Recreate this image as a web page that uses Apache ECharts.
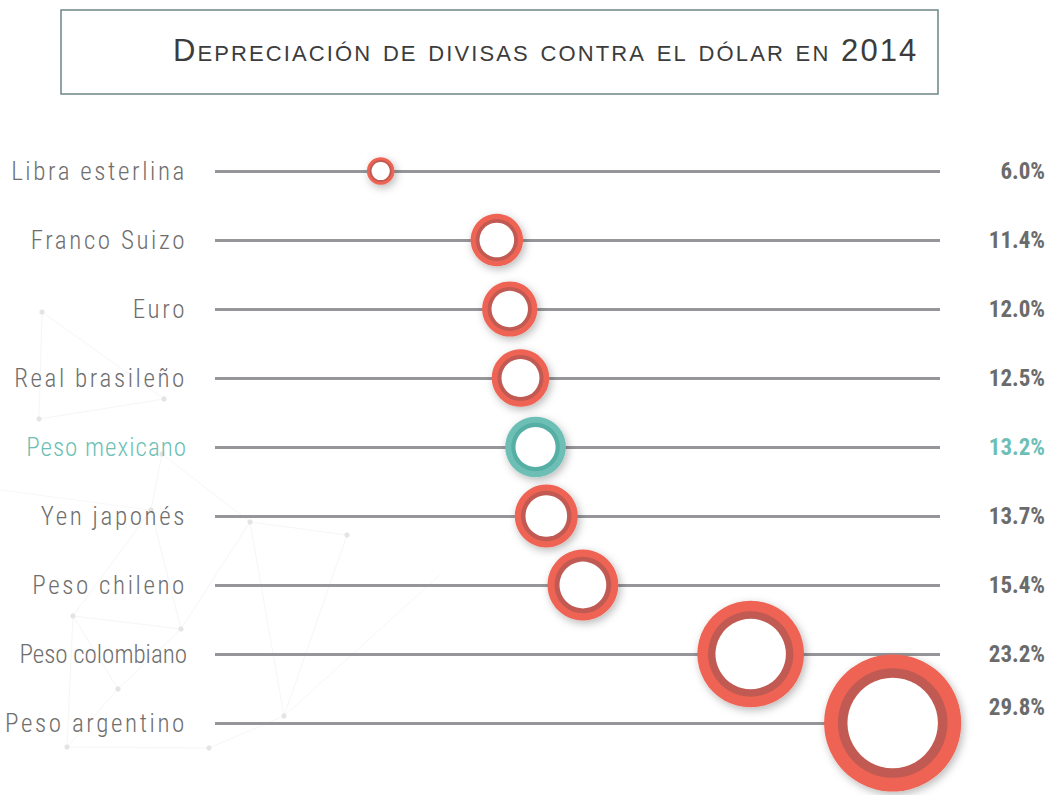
<!DOCTYPE html>
<html>
<head>
<meta charset="utf-8">
<title>Depreciación de divisas contra el dólar en 2014</title>
<script src="https://cdn.jsdelivr.net/npm/echarts@6/dist/echarts.min.js"></script>
<style>
    body { margin: 0; background: #fff; }
    #main { width: 1051px; height: 795px; }
    /* espaciado de letras y versalitas como en la infografía */
    #main text[style*="font-size: 25px"] { letter-spacing: 2.6px; }
    #main text[style*="font-size: 31px"] { letter-spacing: 2.1px; font-variant: small-caps; }
</style>
</head>
<body>
<div id="main"></div>
<script>
// datos
var divisas = ['Libra esterlina', 'Franco Suizo', 'Euro', 'Real brasileño', 'Peso mexicano',
    'Yen japonés', 'Peso chileno', 'Peso colombiano', 'Peso argentino'];
var depreciacion = [6.0, 11.4, 12.0, 12.5, 13.2, 13.7, 15.4, 23.2, 29.8];
var etiquetas = ['6.0%', '11.4%', '12.0%', '12.5%', '13.2%', '13.7%', '15.4%', '23.2%', '29.8%'];
var destacado = 'Peso mexicano';

var rojo = '#ee6352', rojoOscuro = '#c15a52';
var verde = '#6dbfb6', verdeOscuro = '#56afa4';
// algunas etiquetas van más juntas en el original
var espaciado = { 'Peso mexicano': '1px', 'Peso colombiano': '0px' };

// red decorativa del fondo (solo adorno)
var nodos = [[42, 312], [164, 399], [39, 419], [162, 454], [151, 510], [250, 522], [347, 535],
    [73, 616], [181, 629], [118, 689], [284, 716], [67, 747], [209, 748]];
var enlaces = [[0, 1], [1, 2], [0, 2], [3, 4], [3, 5], [4, 7], [4, 8], [5, 8], [5, 10], [5, 6],
    [6, 10], [7, 8], [7, 9], [8, 9], [7, 11], [11, 12], [12, 10], [9, 11]];

function fondo() {
    var g = [];
    enlaces.forEach(function (e) {
        var a = nodos[e[0]], b = nodos[e[1]];
        g.push({ type: 'line', silent: true, z: -10,
            shape: { x1: a[0], y1: a[1], x2: b[0], y2: b[1] },
            style: { stroke: '#f6f6f6', lineWidth: 1 } });
    });
    g.push({ type: 'line', silent: true, z: -10, shape: { x1: 284, y1: 716, x2: 440, y2: 575 }, style: { stroke: '#f7f7f7', lineWidth: 1 } });
    g.push({ type: 'line', silent: true, z: -10, shape: { x1: 0, y1: 490, x2: 151, y2: 510 }, style: { stroke: '#f7f7f7', lineWidth: 1 } });
    nodos.forEach(function (n) {
        g.push({ type: 'circle', silent: true, z: -9,
            shape: { cx: n[0], cy: n[1], r: 2.6 },
            style: { fill: '#e4e4e4' } });
    });
    return g;
}

function chart() {
    var dom = document.getElementById('main');
    var myChart = echarts.init(dom, null, { renderer: 'svg' });

    var puntos = divisas.map(function (d, i) {
        return { name: d, value: [depreciacion[i], d] };
    });

    function colorAnillo(claro) {
        return function (p) {
            if (p.name === destacado) return claro ? verde : verdeOscuro;
            return claro ? rojo : rojoOscuro;
        };
    }

    var option = {
        animation: false,
        title: {
            text: 'Depreciación de divisas contra el dólar en 2014',
            left: 173,
            top: 35,
            padding: 0,
            textStyle: {
                fontFamily: '"Liberation Sans", Arial, sans-serif',
                fontWeight: 'normal',
                fontSize: 31,
                color: '#3c3c3c'
            }
        },
        graphic: [{
            type: 'rect',
            shape: { x: 61, y: 10, width: 877, height: 84 },
            style: { fill: 'none', stroke: '#6f8585', lineWidth: 1.5 },
            z: 0
        }].concat(fondo()),
        grid: { left: 215, right: 111, top: 171, bottom: 72 },
        xAxis: {
            type: 'value',
            min: -1.7,
            max: 32,
            show: false
        },
        yAxis: [{
            type: 'category',
            inverse: true,
            boundaryGap: false,
            data: divisas,
            axisLine: { show: false },
            axisTick: { show: false },
            splitLine: { show: true, lineStyle: { color: '#96959a', width: 3 } },
            axisLabel: {
                margin: 28,
                fontFamily: '"Roboto Condensed", Roboto, sans-serif',
                fontWeight: 300,
                fontSize: 25,
                color: function (v) { return v === destacado ? verde : '#6e6e6e'; }
            }
        }, {
            type: 'category',
            position: 'right',
            inverse: true,
            boundaryGap: false,
            data: divisas,
            axisLine: { show: false },
            axisTick: { show: false },
            splitLine: { show: false },
            axisLabel: {
                margin: 105,
                align: 'right',
                fontFamily: '"Roboto Condensed", Roboto, sans-serif',
                fontWeight: 'bold',
                fontSize: 23,
                color: '#6b6b6b',
                formatter: function (v, i) {
                    var t = etiquetas[i];
                    if (v === destacado) return '{verde|' + t + '}';
                    if (i === divisas.length - 1) return '{arriba|' + t + '}';
                    return t;
                },
                rich: {
                    verde: { color: verde, fontSize: 23, fontWeight: 'bold', fontFamily: '"Roboto Condensed", Roboto, sans-serif' },
                    arriba: { padding: [0, 0, 32, 0], fontSize: 23, fontWeight: 'bold', color: '#6b6b6b', fontFamily: '"Roboto Condensed", Roboto, sans-serif' }
                }
            }
        }],
        series: [{
            type: 'scatter',
            clip: false,
            data: puntos,
            symbolSize: function (v) { return v[0] * 4.6; },
            itemStyle: {
                opacity: 1,
                color: colorAnillo(true),
                shadowBlur: 8,
                shadowOffsetX: 2,
                shadowOffsetY: 3,
                shadowColor: 'rgba(0,0,0,0.28)'
            },
            z: 3
        }, {
            type: 'scatter',
            clip: false,
            data: puntos,
            symbolSize: function (v) { return v[0] * 4.6 * 0.8; },
            itemStyle: { opacity: 1, color: colorAnillo(false) },
            z: 4
        }, {
            type: 'scatter',
            clip: false,
            data: puntos,
            symbolSize: function (v) { return v[0] * 4.6 * 0.66; },
            itemStyle: { opacity: 1, color: '#ffffff' },
            z: 5
        }]
    };

    myChart.setOption(option, true);

    var textos = dom.querySelectorAll('text');
    for (var i = 0; i < textos.length; i++) {
        var e = espaciado[textos[i].textContent];
        if (e !== undefined) textos[i].style.letterSpacing = e;
    }
}

chart();
</script>
</body>
</html>
